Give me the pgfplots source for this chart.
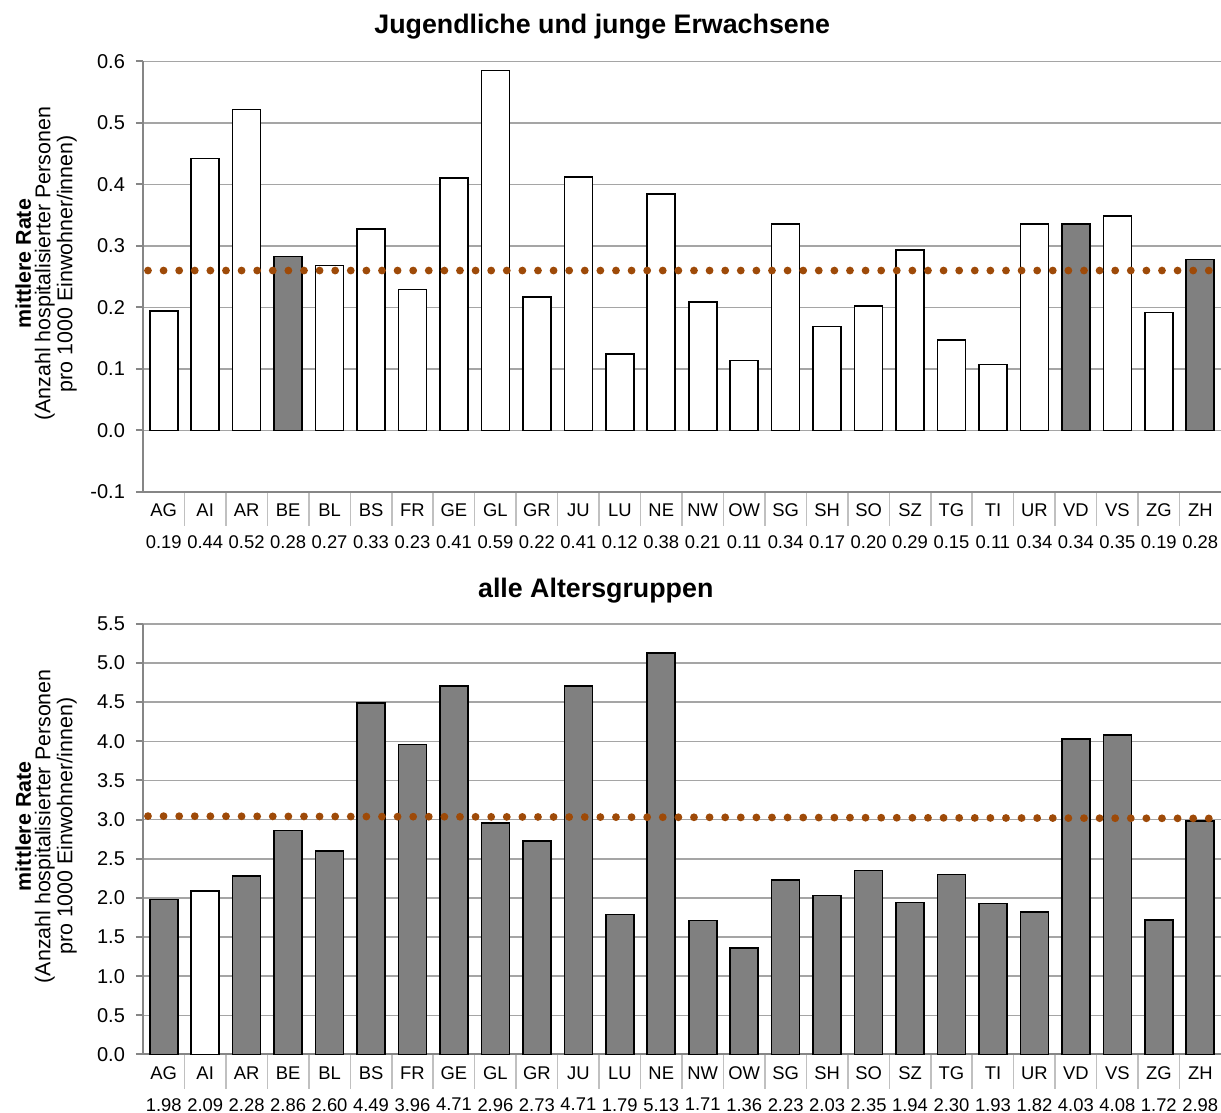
\documentclass[border=0pt]{standalone}
\usepackage{pgfplots}
\pgfplotsset{compat=1.18}
\usepackage{fontspec}
\setmainfont{Liberation Sans}

\definecolor{barGray}{RGB}{128,128,128}
\definecolor{meanBrown}{RGB}{158,74,8}
\definecolor{gridGray}{RGB}{165,165,165}
\definecolor{axGray}{RGB}{134,134,134}
\definecolor{sepGray}{RGB}{192,192,192}

\pgfplotsset{
  kanton/.style={
    scale only axis,
    width=539pt, height=215.3pt,
    anchor=south west,
    xmin=-0.5, xmax=25.5,
    axis lines*=left,
    axis line style={axGray, line width=1pt},
    ymajorgrids,
    grid style={gridGray, line width=0.75pt},
    xtick={0,...,25},
    xticklabels={AG,AI,AR,BE,BL,BS,FR,GE,GL,GR,JU,LU,NE,NW,OW,SG,SH,SO,SZ,TG,TI,UR,VD,VS,ZG,ZH},
    minor xtick={0.5,1.5,...,24.5},
    major x tick style={draw=none},
    minor x tick style={sepGray, line width=0.75pt},
    tick align=outside,
    minor tick length=17pt,
    major tick length=3.5pt,
    y tick style={axGray, line width=1pt},
    yticklabel style={font=\fontsize{10}{12}\selectfont, xshift=-2pt},
    xticklabel style={font=\fontsize{9.2}{11}\selectfont, yshift=1pt},
    extra x ticks={0,...,25},
    extra x tick style={xticklabel style={yshift=-15.8pt}},
    /pgf/number format/assume math mode=true,
    /pgf/number format/fixed,
    /pgf/number format/fixed zerofill,
    /pgf/number format/precision=1,
    ylabel={\textbf{mittlere Rate}\\(Anzahl hospitalisierter Personen\\pro 1000 Einwohner/innen)},
    every axis y label/.style={at={([xshift=-48.5pt]rel axis cs:0,0.53)}, anchor=center, rotate=90,
      align=center, font=\fontsize{10.7}{9.8}\selectfont},
    title style={anchor=base, font=\bfseries\fontsize{13.4}{16}\selectfont},
    clip=false,
  },
  bars/.style={ybar, bar width=0.675, bar shift=0pt, draw=black, line width=0.8pt},
  mittel/.style={meanBrown, line width=3.9pt, line cap=round, dash pattern=on 0pt off 7.8pt},
}

\begin{document}
\begin{tikzpicture}
\useasboundingbox (-71.5pt,-29.25pt) rectangle (539pt,527.25pt);

% Jugendliche und junge Erwachsene
\begin{axis}[kanton,
  at={(0pt,281.25pt)},
  ymin=-0.1, ymax=0.6, ytick={-0.1,0,...,0.6},
  title={Jugendliche und junge Erwachsene},
  title style={at={(0.426,1)}, yshift=8pt},
  extra x tick labels={0.19,0.44,0.52,0.28,0.27,0.33,0.23,0.41,0.59,0.22,0.41,0.12,0.38,0.21,0.11,0.34,0.17,0.20,0.29,0.15,0.11,0.34,0.34,0.35,0.19,0.28},
]
\addplot[bars, fill=white] coordinates {
  (0,0.194) (1,0.442) (2,0.522) (4,0.268) (5,0.328) (6,0.229) (7,0.410)
  (8,0.585) (9,0.217) (10,0.412) (11,0.124) (12,0.384) (13,0.209) (14,0.114)
  (15,0.336) (16,0.169) (17,0.202) (18,0.293) (19,0.147) (20,0.107) (21,0.336)
  (23,0.349) (24,0.192)
};
\addplot[bars, fill=barGray] coordinates {
  (3,0.283) (22,0.336) (25,0.278)
};
\addplot[mittel] coordinates {(-0.38,0.26) (25.5,0.26)};
\end{axis}

% alle Altersgruppen
\begin{axis}[kanton,
  at={(0pt,0pt)},
  ymin=0, ymax=5.5, ytick={0,0.5,...,5.5},
  title={alle Altersgruppen},
  title style={at={(0.42,1)}, yshift=7pt},
  extra x tick labels={1.98,2.09,2.28,2.86,2.60,4.49,3.96,4.71,2.96,2.73,4.71,1.79,5.13,1.71,1.36,2.23,2.03,2.35,1.94,2.30,1.93,1.82,4.03,4.08,1.72,2.98},
]
\addplot[bars, fill=white] coordinates {(1,2.09)};
\addplot[bars, fill=barGray] coordinates {
  (0,1.98) (2,2.28) (3,2.86) (4,2.60) (5,4.49) (6,3.96) (7,4.71) (8,2.96)
  (9,2.73) (10,4.71) (11,1.79) (12,5.13) (13,1.71) (14,1.36) (15,2.23)
  (16,2.03) (17,2.35) (18,1.94) (19,2.30) (20,1.93) (21,1.82) (22,4.03)
  (23,4.08) (24,1.72) (25,2.98)
};
\addplot[mittel] coordinates {(-0.38,3.045) (25.5,3.015)};
\end{axis}
\end{tikzpicture}
\end{document}
